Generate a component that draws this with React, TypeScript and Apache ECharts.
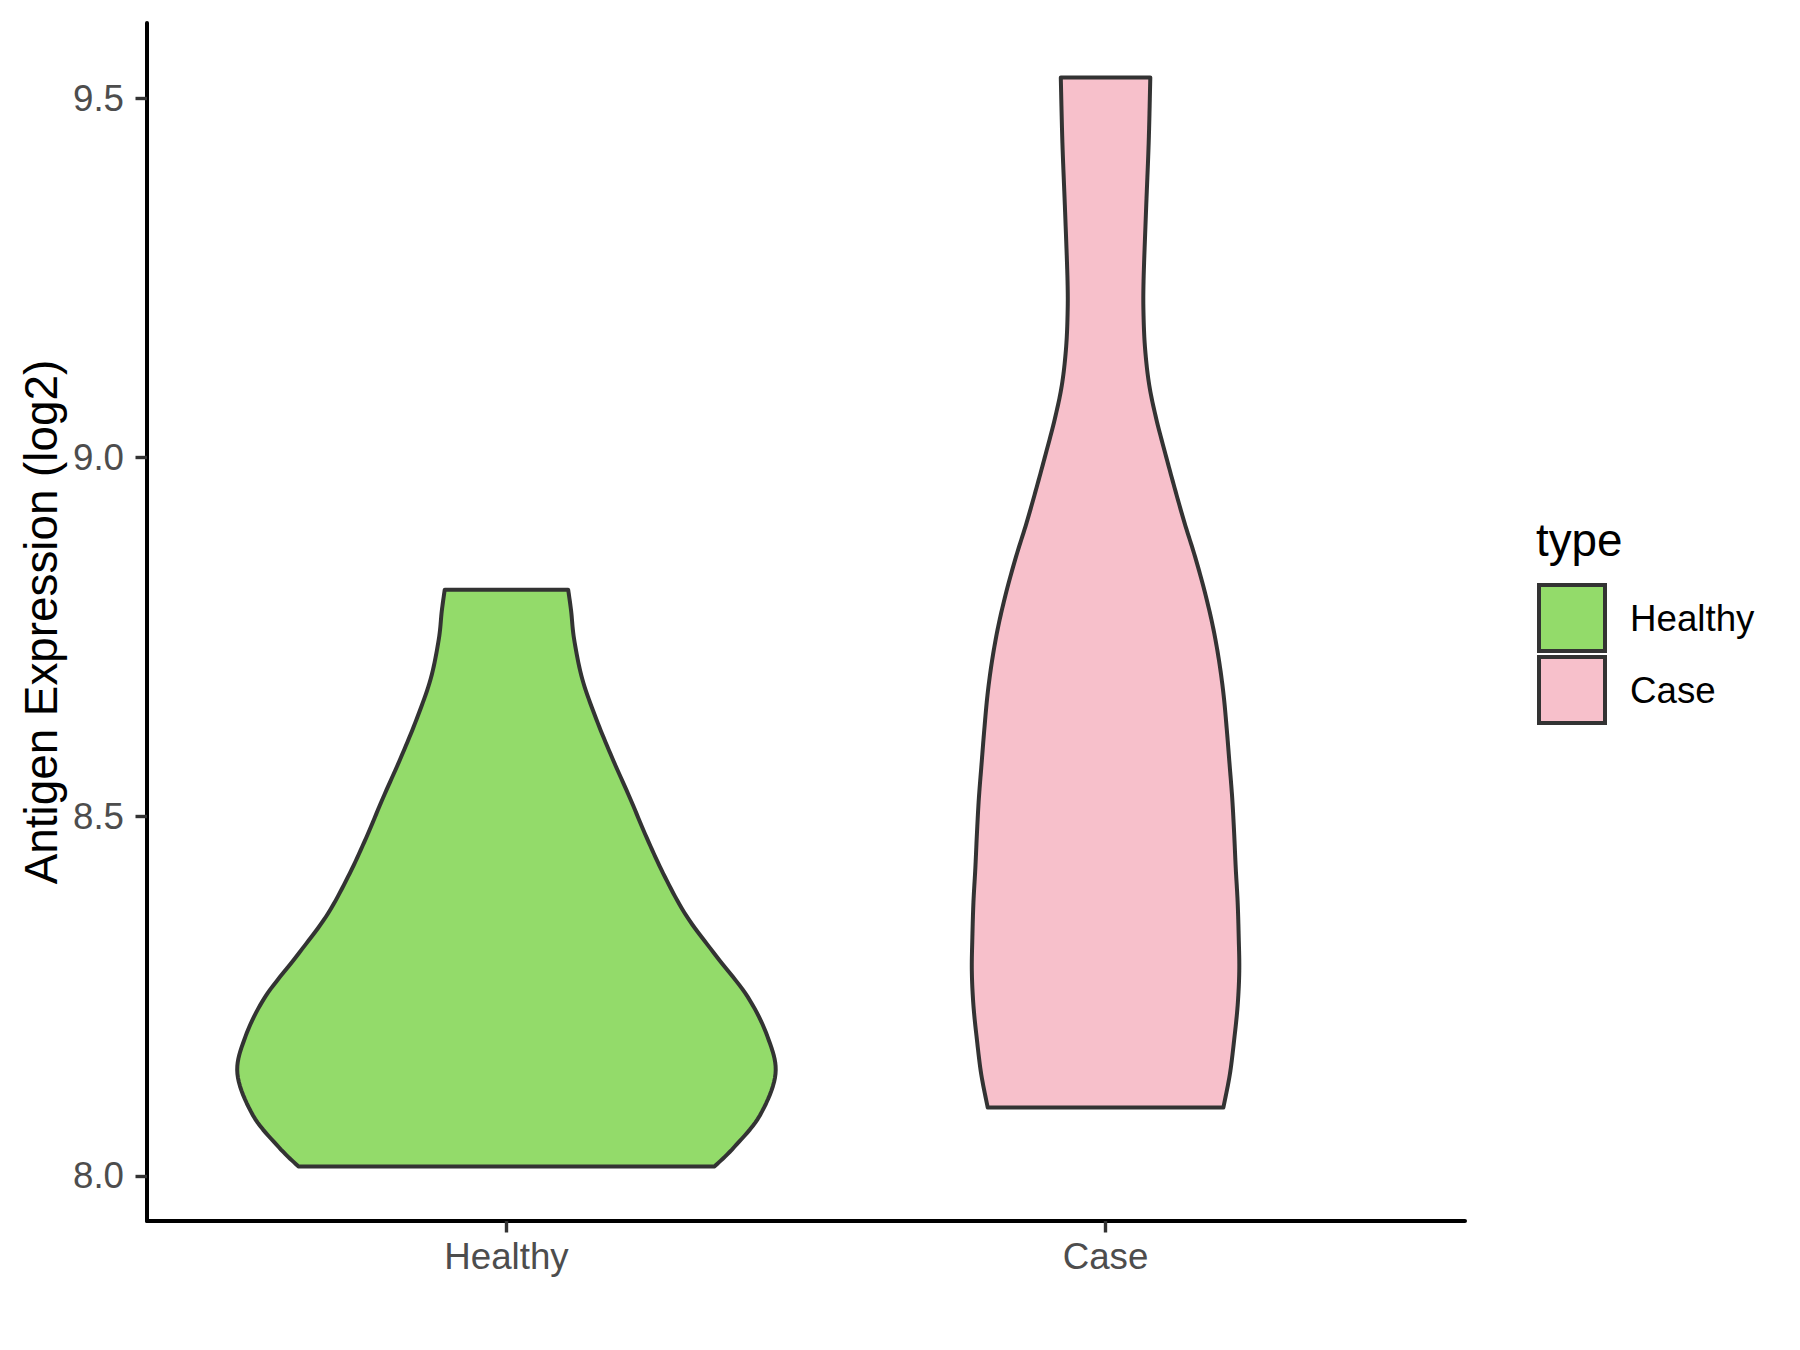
import React, { useEffect, useRef } from "react";
import * as echarts from "echarts";

// ---- data ----
const categories = ["Healthy", "Case"];
const groupColors = ["#93DB6A", "#F7C0CB"];

// sampled outline of each violin: y value and relative density (1 = widest violin)
const healthyY = [8.013, 8.04, 8.084, 8.142, 8.194, 8.249, 8.305, 8.361, 8.416, 8.47, 8.526, 8.582, 8.636, 8.692, 8.747, 8.786, 8.816];
const healthyDensity = [0.772, 0.845, 0.94, 0.998, 0.968, 0.895, 0.78, 0.669, 0.588, 0.521, 0.458, 0.392, 0.333, 0.281, 0.251, 0.24, 0.229];

const caseY = [8.095, 8.141, 8.189, 8.237, 8.285, 8.332, 8.381, 8.428, 8.477, 8.525, 8.573, 8.62, 8.669, 8.717, 8.765, 8.813, 8.862, 8.909, 8.958, 9.005, 9.054, 9.101, 9.15, 9.197, 9.246, 9.342, 9.438, 9.529];
const caseDensity = [0.437, 0.461, 0.477, 0.49, 0.496, 0.494, 0.49, 0.483, 0.477, 0.47, 0.46, 0.45, 0.438, 0.421, 0.398, 0.368, 0.332, 0.293, 0.256, 0.222, 0.188, 0.162, 0.147, 0.141, 0.141, 0.15, 0.16, 0.166];

const yTicks = [8.0, 8.5, 9.0, 9.5];
const yMin = 7.937;
const yMax = 9.605;
const xMin = 0.4;
const xMax = 2.6;
const maxHalfWidth = 0.45;

const FONT = "'Liberation Sans', Arial, sans-serif";

function catmullRom(points: number[][], steps = 10): number[][] {
  if (points.length < 3) return points;
  const out: number[][] = [];
  const n = points.length;
  for (let i = 0; i < n - 1; i++) {
    const p0 = points[Math.max(0, i - 1)];
    const p1 = points[i];
    const p2 = points[i + 1];
    const p3 = points[Math.min(n - 1, i + 2)];
    for (let s = 0; s < steps; s++) {
      const t = s / steps;
      const t2 = t * t;
      const t3 = t2 * t;
      const f = (a: number, b: number, c: number, d: number) =>
        0.5 * (2 * b + (-a + c) * t + (2 * a - 5 * b + 4 * c - d) * t2 + (-a + 3 * b - 3 * c + d) * t3);
      out.push([f(p0[0], p1[0], p2[0], p3[0]), f(p0[1], p1[1], p2[1], p3[1])]);
    }
  }
  out.push(points[n - 1]);
  return out;
}

export default function App() {
  const ref = useRef<HTMLDivElement>(null);

  useEffect(() => {
    const chart = echarts.init(ref.current!, null, { renderer: "svg" });
    const groups = [
      { y: healthyY, d: healthyDensity },
      { y: caseY, d: caseDensity },
    ];

    const renderItem = (params: any, api: any) => {
      const gi = params.dataIndex;
      const g = groups[gi];
      const cx = api.value(0);
      const right = g.y.map((y, i) => api.coord([cx + g.d[i] * maxHalfWidth, y]));
      const left = g.y.map((y, i) => api.coord([cx - g.d[i] * maxHalfWidth, y]));
      const rs = catmullRom(right);
      const ls = catmullRom(left).reverse();
      return {
        type: "polygon",
        shape: { points: rs.concat(ls) },
        style: { fill: groupColors[gi], stroke: "#333333", lineWidth: 4, lineJoin: "round" },
      };
    };

    const legendGraphics: any[] = [
      {
        type: "text",
        x: 1536,
        y: 540,
        style: { text: "type", fontSize: 45.8, fontFamily: FONT, fill: "#000000", verticalAlign: "middle", align: "left" },
      },
    ];
    categories.forEach((c, i) => {
      legendGraphics.push({
        type: "rect",
        shape: { x: 1539, y: 585 + i * 72, width: 66, height: 66 },
        style: { fill: groupColors[i], stroke: "#333333", lineWidth: 4 },
      });
      legendGraphics.push({
        type: "text",
        x: 1630,
        y: 618 + i * 72,
        style: { text: c, fontSize: 36.7, fontFamily: FONT, fill: "#000000", verticalAlign: "middle", align: "left" },
      });
    });

    const option: any = {
      animation: false,
      backgroundColor: "#ffffff",
      grid: { left: 147, top: 23, width: 1318, height: 1198, containLabel: false },
      xAxis: {
        type: "value",
        min: xMin,
        max: xMax,
        axisLine: { show: true, onZero: false, lineStyle: { color: "#000000", width: 4 } },
        axisTick: { show: true, customValues: [1, 2], length: 11.5, lineStyle: { color: "#333333", width: 3.4 } },
        axisLabel: {
          customValues: [1, 2],
          formatter: (v: number) => categories[Math.round(v) - 1] ?? "",
          fontSize: 36.7,
          fontFamily: FONT,
          color: "#4D4D4D",
          margin: 17,
        },
        splitLine: { show: false },
      },
      yAxis: {
        type: "value",
        min: yMin,
        max: yMax,
        axisLine: { show: true, onZero: false, lineStyle: { color: "#000000", width: 4 } },
        axisTick: { show: true, customValues: yTicks, length: 11.5, lineStyle: { color: "#333333", width: 3.4 } },
        axisLabel: {
          customValues: yTicks,
          formatter: (v: number) => v.toFixed(1),
          fontSize: 36.7,
          fontFamily: FONT,
          color: "#4D4D4D",
          margin: 23,
        },
        splitLine: { show: false },
      },
      graphic: [
        {
          type: "text",
          x: 41,
          y: 622,
          rotation: Math.PI / 2,
          style: {
            text: "Antigen Expression (log2)",
            fontSize: 45.8,
            fontFamily: FONT,
            fill: "#000000",
            align: "center",
            verticalAlign: "middle",
          },
        },
        ...legendGraphics,
      ],
      series: [
        {
          type: "custom",
          renderItem,
          clip: false,
          encode: { x: 0, y: 1 },
          data: categories.map((c, i) => [i + 1, (groups[i].y[0] + groups[i].y[groups[i].y.length - 1]) / 2]),
        },
      ],
    };

    chart.setOption(option);
    return () => chart.dispose();
  }, []);

  return (
    <div
      ref={ref}
      style={{ position: "fixed", left: 0, top: 0, width: 1800, height: 1350, background: "#ffffff" }}
    />
  );
}
